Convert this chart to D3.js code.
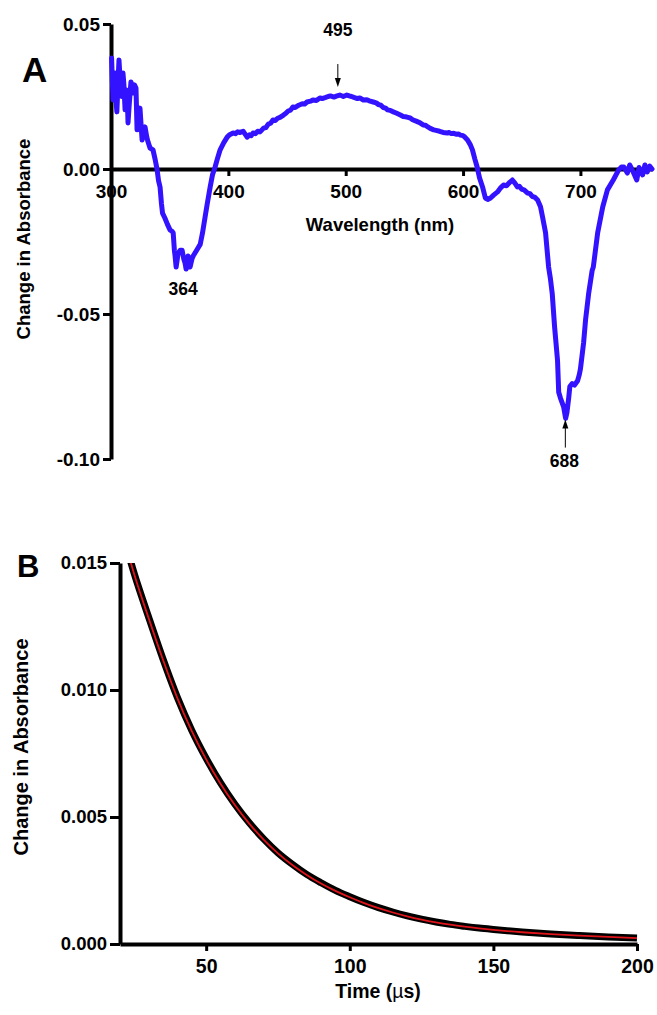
<!DOCTYPE html>
<html>
<head>
<meta charset="utf-8">
<script src="https://cdn.jsdelivr.net/npm/d3@7"></script>
<style>
  html, body { margin: 0; padding: 0; background: #fff; }
  svg text { font-family: "Liberation Sans", Arial, Helvetica, sans-serif; font-weight: bold; fill: #000; }
</style>
</head>
<body>
<svg id="fig" width="657" height="1015"></svg>
<script>
// ---------- Panel A: transient difference spectrum, [wavelength nm, ΔA] ----------
const spectrumA = [
  [300.5, 0.0383], [301.7, 0.0238], [302.5, 0.0300], [303.4, 0.0331], [304.2, 0.0240], [305, 0.0197],
  [306, 0.0300], [306.8, 0.0376], [307.6, 0.0320], [308.5, 0.0283], [309.3, 0.0250], [310.2, 0.0331],
  [311, 0.0290], [312, 0.0204], [313, 0.0240], [313.7, 0.0272], [314.5, 0.0159], [315.5, 0.0220],
  [317, 0.0300], [318, 0.0285], [318.8, 0.0262], [320, 0.0290], [321.3, 0.0279], [322.2, 0.0135],
  [323.5, 0.0180], [324.7, 0.0210], [325.5, 0.0160], [326.5, 0.0100], [328, 0.0135], [329, 0.0145],
  [330.5, 0.0110], [331.6, 0.0093], [333.3, 0.0072], [335, 0.0068], [335.8, 0.0066], [337.5, 0.0035],
  [339.2, 0.0000], [340.5, -0.0040], [341.8, -0.0062], [343, -0.0120], [343.9, -0.0152], [346, -0.0170],
  [348, -0.0190], [350.3, -0.0210], [352, -0.0215], [353, -0.0220], [354, -0.0280], [354.6, -0.0300],
  [355.5, -0.0338], [356.5, -0.0310], [357.2, -0.0290], [359, -0.0280], [360.6, -0.0280], [362, -0.0310],
  [363.1, -0.0324], [364, -0.0345], [365.7, -0.0300], [367.4, -0.0338], [369, -0.0310], [370, -0.0300],
  [373, -0.0280], [376, -0.0260], [378, -0.0220], [380.2, -0.0165], [382, -0.0120], [384.5, -0.0062],
  [386.5, -0.0020], [388.7, 0.0007], [391, 0.0040], [393, 0.0066], [396, 0.0090], [399, 0.0110],
  [401, 0.0118], [402, 0.0120], [404, 0.0124], [406, 0.0122], [408, 0.0128], [410, 0.0126],
  [412.6, 0.0130], [414, 0.0122], [416, 0.0110], [418, 0.0118], [419.5, 0.0115], [421, 0.0124],
  [423, 0.0122], [425, 0.0130], [427, 0.0128], [430, 0.0141], [432, 0.0143], [434, 0.0155],
  [436, 0.0158], [438, 0.0169], [440, 0.0167], [442, 0.0175], [444, 0.0178], [447, 0.0186],
  [449, 0.0192], [451, 0.0200], [453, 0.0203], [455, 0.0214], [457, 0.0212], [460, 0.0220],
  [463, 0.0225], [465, 0.0224], [467, 0.0231], [470, 0.0234], [472, 0.0238], [475, 0.0236],
  [478, 0.0245], [480, 0.0243], [483, 0.0247], [485, 0.0250], [487, 0.0252], [490, 0.0248],
  [492, 0.0251], [495, 0.0255], [498, 0.0250], [501, 0.0255], [503, 0.0252], [505, 0.0250],
  [507, 0.0247], [510, 0.0243], [512, 0.0245], [515, 0.0238], [518, 0.0239], [520, 0.0235],
  [523.5, 0.0231], [526, 0.0228], [528, 0.0222], [530, 0.0220], [532, 0.0212], [534, 0.0210],
  [535.5, 0.0204], [538, 0.0202], [540, 0.0198], [543, 0.0193], [546.6, 0.0186], [549, 0.0181],
  [551, 0.0180], [553, 0.0178], [555, 0.0176], [557, 0.0170], [560, 0.0165], [563, 0.0160],
  [566, 0.0152], [568, 0.0151], [570, 0.0145], [572, 0.0140], [575, 0.0135], [577, 0.0133],
  [580, 0.0130], [583, 0.0126], [586.7, 0.0124], [588, 0.0126], [590, 0.0122], [592, 0.0123],
  [594, 0.0120], [596, 0.0121], [597.8, 0.0117], [600, 0.0115], [601, 0.0112], [603.8, 0.0100],
  [606, 0.0085], [608, 0.0066], [610, 0.0035], [612, 0.0007], [614, -0.0030], [616.6, -0.0062],
  [619, -0.0100], [621, -0.0105], [623.4, -0.0100], [626, -0.0090], [629.4, -0.0079], [632, -0.0065],
  [634.5, -0.0055], [637, -0.0058], [640, -0.0045], [642, -0.0038], [644, -0.0048], [646.4, -0.0062],
  [648, -0.0060], [650, -0.0070], [652, -0.0072], [655, -0.0083], [657, -0.0085], [659, -0.0095],
  [661, -0.0097], [663.5, -0.0107], [666, -0.0130], [667.7, -0.0165], [670.3, -0.0220], [672.9, -0.0338],
  [674.5, -0.0380], [676, -0.0430], [678, -0.0545], [680.5, -0.0660], [681.5, -0.0770], [683, -0.0790],
  [685.7, -0.0820], [687.4, -0.0860], [688.5, -0.0840], [690, -0.0790], [691, -0.0750], [693, -0.0740],
  [695, -0.0745], [697.6, -0.0730], [699, -0.0710], [700, -0.0690], [702.7, -0.0600], [704.4, -0.0520],
  [707, -0.0430], [710, -0.0350], [711, -0.0338], [714.7, -0.0220], [719, -0.0131], [723, -0.0072],
  [728, -0.0038], [732.6, -0.0003], [735, 0.0007], [737, 0.0007], [740, -0.0014], [742, 0.0014],
  [745, -0.0010], [748, -0.0038], [750, 0.0005], [753, -0.0020], [755, 0.0014], [757, -0.0010],
  [759, 0.0010], [761, 0.0000]
];
const aTickValuesX = [300, 400, 500, 600, 700];
const aTickValuesY = [-0.10, -0.05, 0.00, 0.05];
const aTickLabelsY = ["-0.10", "-0.05", "0.00", "0.05"];
const bandPeaks = [364, 495, 688];

// ---------- Panel B: decay trace at a single wavelength ----------
const time = [23, 25, 30, 35, 40, 45, 50, 55, 60, 65, 70, 75, 80, 85, 90, 95, 100, 105, 110, 115,
              120, 125, 130, 135, 140, 145, 150, 160, 170, 180, 190, 200];
const measured = [0.01532, 0.01457, 0.01286, 0.01121, 0.00970, 0.00841, 0.00731, 0.00634, 0.00550, 0.00477,
                  0.00414, 0.00359, 0.00314, 0.00274, 0.00241, 0.00211, 0.00186, 0.00163, 0.00143, 0.00126,
                  0.00111, 0.000978, 0.000868, 0.000772, 0.000695, 0.000626, 0.000570, 0.000472, 0.000395, 0.000333,
                  0.000280, 0.000236];
const fitted = [0.01530, 0.01454, 0.01282, 0.01118, 0.00967, 0.00838, 0.00727, 0.00631, 0.00547, 0.00474,
                0.00411, 0.00357, 0.00311, 0.00272, 0.00238, 0.00209, 0.00184, 0.00161, 0.00141, 0.00124,
                0.00109, 0.000962, 0.000853, 0.000760, 0.000682, 0.000616, 0.000559, 0.000463, 0.000388, 0.000327,
                0.000277, 0.000235];
const bTickValuesX = [50, 100, 150, 200];
const bTickValuesY = [0, 0.005, 0.010, 0.015];
const bTickLabelsY = ["0.000", "0.005", "0.010", "0.015"];

const FONT = '"Liberation Sans", Arial, Helvetica, sans-serif';
const svg = d3.select("#fig");

function styleAxis(g, fontSize) {
  g.attr("font-family", null).attr("font-size", null);
  g.selectAll(".tick line").attr("stroke", "#000").attr("stroke-width", 3);
  g.selectAll(".tick text")
    .attr("font-family", FONT).attr("font-weight", "bold")
    .attr("font-size", fontSize).attr("fill", "#000");
  g.select(".domain").attr("stroke", "#000").attr("stroke-width", 4).raise();
}

// ===== Panel A =====
const xA = d3.scaleLinear().domain([300, 761]).range([111, 652]);
const yA = d3.scaleLinear().domain([-0.10, 0.05]).range([459, 24]);

svg.append("g").attr("transform", "translate(111,0)")
  .call(d3.axisLeft(yA).tickValues(aTickValuesY)
    .tickFormat((d, i) => aTickLabelsY[i])
    .tickSize(8).tickPadding(3).tickSizeOuter(0))
  .call(g => styleAxis(g, 19));

svg.append("g").attr("transform", `translate(0,${yA(0)})`)
  .call(d3.axisBottom(xA).tickValues(aTickValuesX)
    .tickFormat(d3.format("d"))
    .tickSize(7).tickPadding(9).tickSizeOuter(0))
  .call(g => styleAxis(g, 19));

svg.append("text").attr("x", 380).attr("y", 231)
  .attr("text-anchor", "middle").attr("font-size", 18.5)
  .text("Wavelength (nm)");

svg.append("text")
  .attr("transform", "translate(30,239) rotate(-90)")
  .attr("text-anchor", "middle").attr("font-size", 18.5)
  .text("Change in Absorbance");

svg.append("text").attr("x", 22).attr("y", 82).attr("font-size", 35).text("A");

const lineA = d3.line()
  .x(d => xA(d[0]))
  .y(d => yA(d[1]));

svg.append("path").datum(spectrumA)
  .attr("d", lineA)
  .attr("fill", "none")
  .attr("stroke", "#3212ff")
  .attr("stroke-width", 5)
  .attr("stroke-linejoin", "round")
  .attr("stroke-linecap", "round");

// band annotations
function valueNear(w) {
  const i = d3.minIndex(spectrumA, d => Math.abs(d[0] - w));
  return spectrumA[i][1];
}
function arrow(x, yTail, yTip) {
  const dir = yTip > yTail ? 1 : -1;
  svg.append("line").attr("x1", x).attr("x2", x)
    .attr("y1", yTail).attr("y2", yTip - dir * 6)
    .attr("stroke", "#000").attr("stroke-width", 1);
  svg.append("path")
    .attr("d", `M${x},${yTip} L${x - 3},${yTip - dir * 9} L${x + 3},${yTip - dir * 9} Z`)
    .attr("fill", "#000");
}
bandPeaks.forEach(p => {
  const x = xA(p);
  const yc = yA(valueNear(p));
  if (p === 495) {
    arrow(x - 2, yc - 31, yc - 8);
    svg.append("text").attr("x", x - 2).attr("y", yc - 59)
      .attr("text-anchor", "middle").attr("font-size", 17.5).text(p);
  } else if (p === 688) {
    arrow(x - 1, yc + 35, yc + 7);
    svg.append("text").attr("x", x - 2).attr("y", yc + 54)
      .attr("text-anchor", "middle").attr("font-size", 17.5).text(p);
  } else {
    svg.append("text").attr("x", x - 3).attr("y", yc + 26)
      .attr("text-anchor", "middle").attr("font-size", 17.5).text(p);
  }
});

// ===== Panel B =====
const xB = d3.scaleLinear().domain([20, 200]).range([120, 637]);
const yB = d3.scaleLinear().domain([0, 0.015]).range([944, 563]);

svg.append("g").attr("transform", "translate(120,0)")
  .call(d3.axisLeft(yB).tickValues(bTickValuesY)
    .tickFormat((d, i) => bTickLabelsY[i])
    .tickSize(10).tickPadding(3).tickSizeOuter(0))
  .call(g => styleAxis(g, 18.5));

svg.append("g").attr("transform", "translate(0,944)")
  .call(d3.axisBottom(xB).tickValues(bTickValuesX)
    .tickFormat(d3.format("d"))
    .tickSize(7).tickPadding(8).tickSizeOuter(0))
  .call(g => styleAxis(g, 19.5));

const tl = svg.append("text").attr("x", 378).attr("y", 998)
  .attr("text-anchor", "middle").attr("font-size", 19.5);
tl.append("tspan").text("Time (");
tl.append("tspan").attr("font-weight", "normal").text("\u00b5");
tl.append("tspan").text("s)");

svg.append("text")
  .attr("transform", "translate(28,747) rotate(-90)")
  .attr("text-anchor", "middle").attr("font-size", 20)
  .text("Change in Absorbance");

svg.append("text").attr("x", 17).attr("y", 577).attr("font-size", 31).text("B");

svg.append("clipPath").attr("id", "clipB")
  .append("rect").attr("x", 120).attr("y", 563).attr("width", 522).attr("height", 381);

const lineB = (vals) => d3.line()
  .x((d, i) => xB(time[i]))
  .y(d => yB(d))
  .curve(d3.curveMonotoneX)(vals);

const plotB = svg.append("g").attr("clip-path", "url(#clipB)");
plotB.append("path")
  .attr("d", lineB(measured))
  .attr("fill", "none").attr("stroke", "#000")
  .attr("stroke-width", 7).attr("stroke-linejoin", "round");
plotB.append("path")
  .attr("d", lineB(fitted))
  .attr("fill", "none").attr("stroke", "#e0141b")
  .attr("stroke-width", 1.8);
</script>
</body>
</html>
